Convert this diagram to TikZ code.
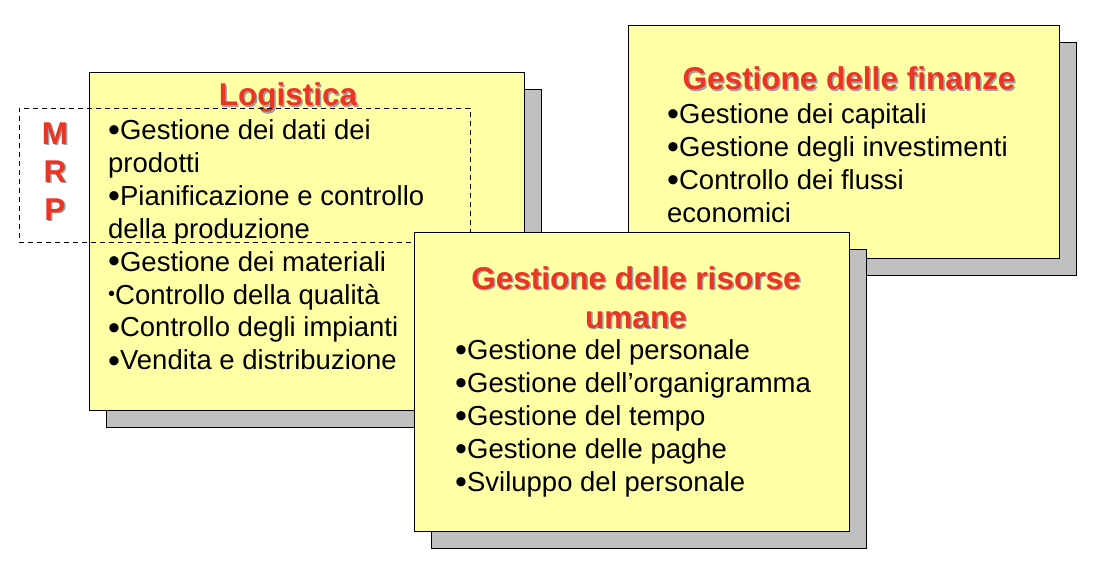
\documentclass[tikz,border=0pt]{standalone}
\usepackage{fontspec}
\setmainfont{Liberation Sans}
\usepackage{xcolor}
\usepackage{tikz}
\usetikzlibrary{positioning}

\definecolor{cardyellow}{RGB}{255,255,166}
\definecolor{cardgray}{RGB}{192,192,192}
\definecolor{titlered}{RGB}{234,52,36}
\definecolor{txtshade}{RGB}{160,160,160}

% red title text with a small grey shade behind it
\newcommand\shtxt[1]{\makebox[0pt][l]{\kern1.5pt\raisebox{-1.5pt}{\textcolor{txtshade}{#1}}}\textcolor{titlered}{#1}}
\newcommand\blt{\raisebox{-2pt}{\fontsize{34}{33}\selectfont •}}
\newcommand\smallblt{\raisebox{4pt}{\fontsize{20}{20}\selectfont •}}

\begin{document}
\begin{tikzpicture}[x=1pt, y=-1pt, inner sep=0pt, node distance=38pt,
	card/.style = {draw, line width=1.3pt, fill=cardyellow, anchor=north west,
		preaction={draw, fill=cardgray, transform canvas={shift={(17pt,-17pt)}}}},
	mrpbox/.style = {draw, dashed, dash pattern=on 5pt off 4pt, line width=0.9pt, anchor=north west},
	title/.style = {anchor=base, align=center, font=\fontsize{31.5}{38.5}\selectfont\bfseries},
	items/.style = {anchor=base west, align=left, font=\fontsize{27.5}{33}\selectfont},
	letter/.style = {font=\fontsize{31.5}{31.5}\selectfont\bfseries}]
	\useasboundingbox (0,0) rectangle (1096,564);
	% Logistica (multi-line nodes sit on the baseline of their last line)
	\node[card, minimum width=435pt, minimum height=338pt] (log) at (89,72) {};
	\node[title] (logt) at (288,106) {\shtxt{Logistica}};
	\node[items] (logi) at (108,370) {\blt Gestione dei dati dei\\
		prodotti\\
		\blt Pianificazione e controllo\\
		della produzione\\
		\blt Gestione dei materiali\\
		\smallblt Controllo della qualità\\
		\blt Controllo degli impianti\\
		\blt Vendita e distribuzione};
	% MRP
	\node[mrpbox, minimum width=451pt, minimum height=134pt] (mrp) at (19,108) {};
	\node[letter] (m) at (55,134) {\shtxt{M}};
	\node[letter] (r) [below of=m] {\shtxt{R}};
	\node[letter] (p) [below of=r] {\shtxt{P}};
	% Gestione delle finanze
	\node[card, minimum width=431pt, minimum height=233pt] (fin) at (628,25) {};
	\node[title] (fint) at (849,90) {\shtxt{Gestione delle finanze}};
	\node[items] (fini) at (667,223) {\blt Gestione dei capitali\\
		\blt Gestione degli investimenti\\
		\blt Controllo dei flussi\\
		economici};
	% Gestione delle risorse umane
	\node[card, minimum width=435pt, minimum height=299pt] (ris) at (414,232) {};
	\node[title] (rist) at (636,328) {\shtxt{Gestione delle risorse}\\ \shtxt{umane}};
	\node[items] (risi) at (455,491) {\blt Gestione del personale\\
		\blt Gestione dell’organigramma\\
		\blt Gestione del tempo\\
		\blt Gestione delle paghe\\
		\blt Sviluppo del personale};
\end{tikzpicture}
\end{document}
